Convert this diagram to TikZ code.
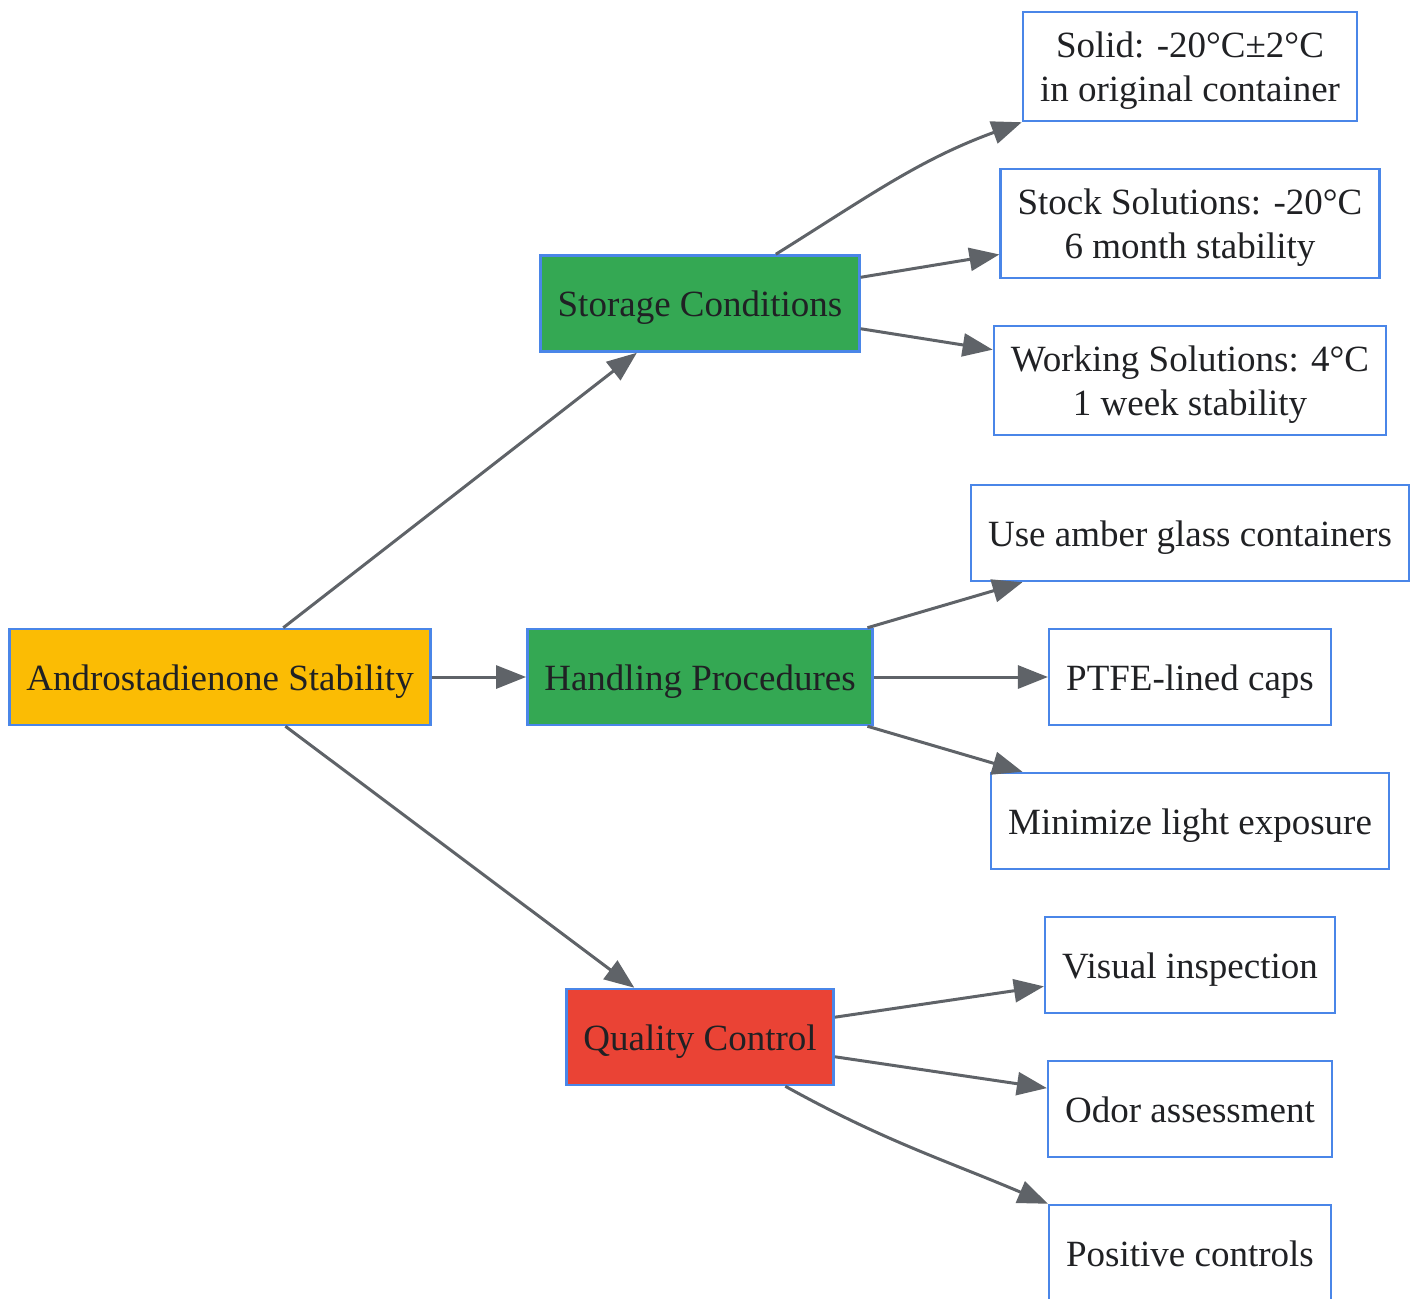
\documentclass[tikz,border=0pt]{standalone}
\usepackage{fontspec}
\setmainfont{Liberation Serif}
\usetikzlibrary{arrows.meta}
\definecolor{gborder}{HTML}{4A86E8}
\definecolor{gyellow}{HTML}{FBBC04}
\definecolor{ggreen}{HTML}{34A853}
\definecolor{gred}{HTML}{EA4335}
\definecolor{gedge}{HTML}{5F6368}
\definecolor{gtext}{HTML}{202124}
\begin{document}
\begin{tikzpicture}[x=1pt, y=-1pt,
                every node/.style={rectangle, draw=gborder, line width=2.5pt, text=gtext,
                    font=\fontsize{37}{44}\selectfont, align=center, inner xsep=17pt, inner ysep=0pt,
                    text height=26pt, text depth=0pt},
                root/.style={fill=gyellow, minimum height=96pt},
                branch/.style={fill=ggreen, minimum height=96pt},
                qbranch/.style={fill=gred, minimum height=96pt},
                leaf/.style={fill=white, minimum height=96pt},
                leaf2/.style={fill=white, minimum height=109pt, text height=69pt, text depth=0pt},
                edge_style/.style={draw=gedge, line width=3pt, -{Triangle[length=30pt,width=23pt]}}]
                \useasboundingbox (0,0) rectangle (1417,1299);
                \node[root] (andro) at (220,677) {Androstadienone Stability};
                \node[branch] (storage) at (700,303.5) {Storage Conditions};
                \node[branch] (handling) at (700,677) {Handling Procedures};
                \node[qbranch] (quality) at (700,1037) {Quality Control};
                \node[leaf2] (solid) at (1190,66.5) {Solid: -20°C±2°C\\in original container};
                \node[leaf2] (stock) at (1190,223.5) {Stock Solutions: -20°C\\6 month stability};
                \node[leaf2] (working) at (1190,380.5) {Working Solutions: 4°C\\1 week stability};
                \node[leaf] (amber) at (1190,533) {Use amber glass containers};
                \node[leaf] (ptfe) at (1190,677) {PTFE-lined caps};
                \node[leaf] (light) at (1190,821) {Minimize light exposure};
                \node[leaf] (visual) at (1190,965) {Visual inspection};
                \node[leaf] (odor) at (1190,1109) {Odor assessment};
                \node[leaf] (positive) at (1190,1253) {Positive controls};
                \draw[edge_style] (andro) -- (storage);
                \draw[edge_style] (andro) -- (handling);
                \draw[edge_style] (andro) -- (quality);
                \draw[edge_style] (storage.33) to[out=32, in=200] (solid.south west);
                \draw[edge_style] (storage) -- (stock);
                \draw[edge_style] (storage) -- (working);
                \draw[edge_style] (handling) -- (amber);
                \draw[edge_style] (handling) -- (ptfe);
                \draw[edge_style] (handling) -- (light);
                \draw[edge_style] (quality) -- (visual);
                \draw[edge_style] (quality) -- (odor);
                \draw[edge_style] (quality.-30) to[out=-29, in=157] (positive.north west);
            \end{tikzpicture}
\end{document}
